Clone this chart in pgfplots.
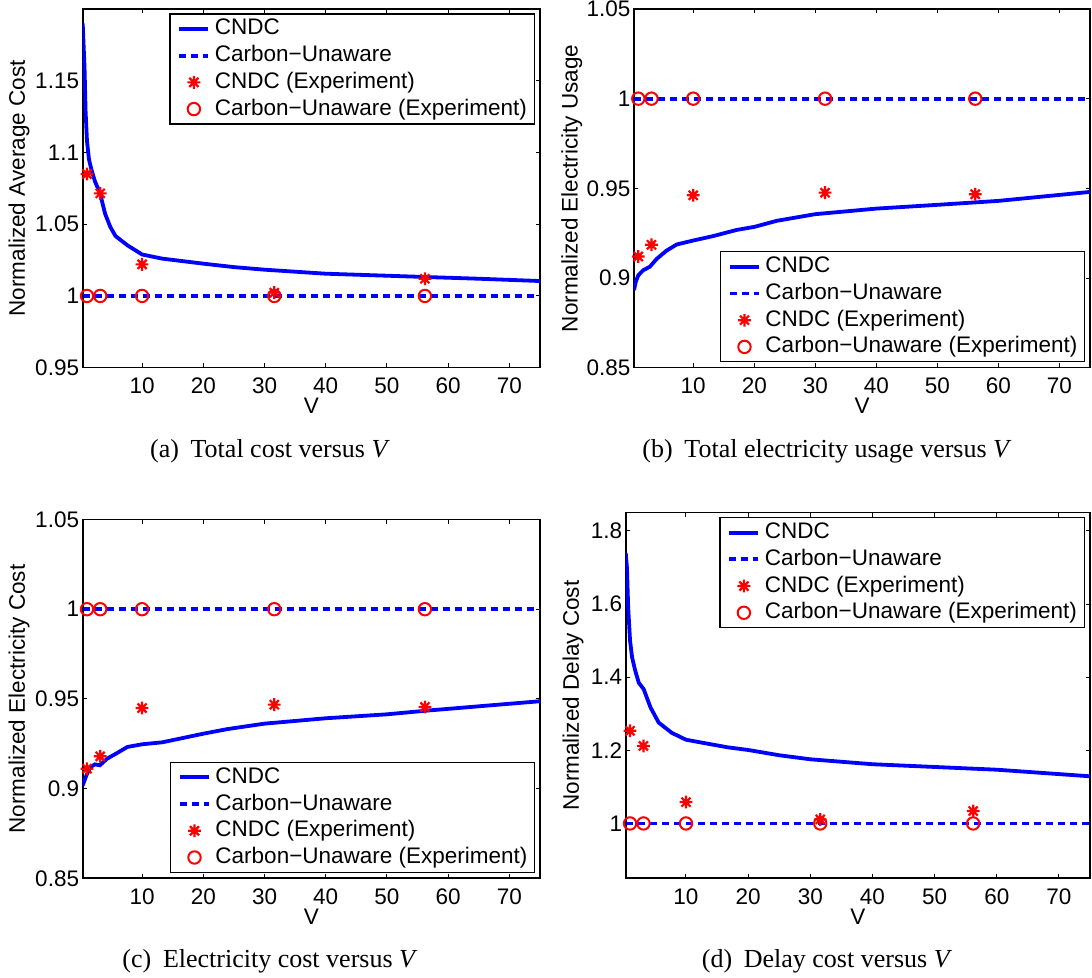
\documentclass[border=0pt]{standalone}
\usepackage{fontspec}
\setmainfont{Liberation Serif}
\newfontfamily\arialfont{Liberation Sans}
\usepackage{pgfplots}
\pgfplotsset{compat=1.18}
\usepackage{pgfplotstable}

\newcommand{\af}{\arialfont\fontsize{11.25}{13.5}\selectfont}
\newcommand{\cf}{\fontsize{13}{15.6}\selectfont}

\definecolor{mblue}{RGB}{0,0,255}
\definecolor{mred}{RGB}{255,0,0}

% eight-armed asterisk marker
\pgfdeclareplotmark{mstar}{%
  \pgfpathmoveto{\pgfqpoint{0pt}{\pgfplotmarksize}}%
  \pgfpathlineto{\pgfqpoint{0pt}{-\pgfplotmarksize}}%
  \pgfpathmoveto{\pgfqpoint{\pgfplotmarksize}{0pt}}%
  \pgfpathlineto{\pgfqpoint{-\pgfplotmarksize}{0pt}}%
  \pgfpathmoveto{\pgfqpoint{0.7071\pgfplotmarksize}{0.7071\pgfplotmarksize}}%
  \pgfpathlineto{\pgfqpoint{-0.7071\pgfplotmarksize}{-0.7071\pgfplotmarksize}}%
  \pgfpathmoveto{\pgfqpoint{-0.7071\pgfplotmarksize}{0.7071\pgfplotmarksize}}%
  \pgfpathlineto{\pgfqpoint{0.7071\pgfplotmarksize}{-0.7071\pgfplotmarksize}}%
  \pgfusepathqstroke
}

% ---------- data ----------
% CNDC curves (simulation)
\pgfplotstableread{
V y
0.3 1.190
0.6 1.159
0.77 1.129
1.0 1.108
1.33 1.095
1.73 1.088
2.29 1.080
3.13 1.0715
3.98 1.057
4.82 1.048
5.67 1.0417
7.64 1.0352
10 1.0289
13.3 1.026
20 1.0225
25 1.0201
30 1.0183
40 1.0155
50 1.0141
56.3 1.0132
65 1.0120
75 1.0104
}\cndcA

\pgfplotstableread{
V y
0.3 0.8933
0.6 0.8980
1.0 0.9015
1.8 0.9043
2.9 0.9063
4.0 0.9106
5.6 0.9152
7.3 0.9187
10 0.9209
13.3 0.9234
17.1 0.9268
20 0.9285
23.7 0.9319
30 0.9356
40 0.9387
50 0.9408
60 0.9430
75 0.9480
}\cndcB

\pgfplotstableread{
V y
0.3 0.9018
0.9 0.9073
1.56 0.9120
2.3 0.9135
3.1 0.9130
4.3 0.9167
5.7 0.9194
7.6 0.9232
10 0.9247
13.3 0.9258
16.1 0.9278
20 0.9306
24 0.9332
30 0.9362
40 0.9392
50 0.9414
56.3 0.9434
75 0.9487
}\cndcC

\pgfplotstableread{
V y
0.3 1.740
0.5 1.700
0.7 1.590
1.0 1.500
1.33 1.454
1.8 1.420
2.4 1.385
3.2 1.367
4.3 1.317
5.6 1.276
7.7 1.248
10 1.229
13.2 1.219
16.8 1.208
20 1.201
25 1.1865
30 1.1755
40 1.162
50 1.1545
60 1.147
75 1.129
}\cndcD

% experiments: V, CNDC (a-d), carbon-unaware
\pgfplotstableread{
V a b c d u
1     1.085  0.9120 0.9111 1.2533 1
3.16  1.0715 0.9185 0.9180 1.2120 1
10    1.022  0.9461 0.9449 1.0585 1
31.6  1.0023 0.9476 0.9468 1.0110 1
56.2  1.012  0.9467 0.9455 1.0338 1
}\expt

% ---------- styles ----------
\pgfplotsset{
  linelegend/.style={legend image code/.code={\draw[##1] (0pt,0pt) -- (14.6pt,0pt);}},
  marklegend/.style={legend image code/.code={\path (0pt,0pt) (14.6pt,0pt);
      \draw[##1] plot coordinates {(7.3pt,0pt)};}},
  cndc/.style={mblue, line width=1.9pt, no marks, linelegend},
  unaware/.style={mblue, line width=1.9pt, no marks, dash pattern=on 3.6pt off 2.4pt, linelegend},
  cstar/.style={only marks, mark=mstar, mark size=3.2pt, mred, line width=1.1pt, marklegend},
  ucirc/.style={only marks, mark=o, mark size=3.1pt, mred, line width=1pt, marklegend},
  mlab/.style={
    scale only axis, anchor=south west,
    xmin=0.3, xmax=75,
    xtick={10,20,30,40,50,60,70}, xticklabels={10,20,30,40,50,60,70},
    tick align=inside, xtick pos=both, ytick pos=both,
    xticklabel pos=lower, yticklabel pos=left,
    major tick length=2.2pt, minor tick num=0,
    every tick/.style={black, line width=0.5pt},
    axis line style={line width=0.8pt},
    tick label style={font=\af},
    label style={font=\af},
    xticklabel style={yshift=-1.5pt},
    yticklabel style={xshift=1.7pt},
    xlabel={V},
    xlabel style={anchor=center},
    ylabel style={anchor=center},
    legend cell align=left,
    legend style={font=\af, draw=black, line width=0.6pt, fill=white,
      inner xsep=3.65pt, inner ysep=2pt, row sep=2.35pt, column sep=2.25pt,
      nodes={inner sep=0pt, text height=8.5pt, text depth=2.5pt}},
  },
  legNE/.style={legend style={at={(axis description cs:1,1)}, anchor=north east,
      xshift=-2.6pt, yshift=-2.2pt}},
  legSE/.style={legend style={at={(axis description cs:1,0)}, anchor=south east,
      xshift=-2.3pt, yshift=2.6pt}},
}

\begin{document}
\begin{tikzpicture}
\useasboundingbox (0pt,0pt) rectangle (546pt,489pt);

% (a) total cost
\begin{axis}[mlab, legNE, at={(41.35pt,305.15pt)}, width=228.65pt, height=179.35pt,
  ymin=0.95, ymax=1.2, ytick={0.95,1,1.05,1.1,1.15}, yticklabels={0.95,1,1.05,1.1,1.15},
  ylabel={Normalized Average Cost},
  ylabel style={at={(axis description cs:-0.1393,0.5)}},
  xlabel style={at={(axis description cs:0.5,-0.107)}}]
\addplot[cndc] table[x=V,y=y] {\cndcA};
\addplot[unaware] coordinates {(0.3,1) (75,1)};
\addplot[cstar] table[x=V,y=a] {\expt};
\addplot[ucirc] table[x=V,y=u] {\expt};
\legend{CNDC,Carbon−Unaware,CNDC (Experiment),Carbon−Unaware (Experiment)}
\end{axis}

% (b) electricity usage
\begin{axis}[mlab, legSE, at={(317pt,305.15pt)}, width=228pt, height=179.35pt,
  ymin=0.85, ymax=1.05, ytick={0.85,0.9,0.95,1,1.05}, yticklabels={0.85,0.9,0.95,1,1.05},
  ylabel={Normalized Electricity Usage},
  ylabel style={at={(axis description cs:-0.1366,0.5)}},
  xlabel style={at={(axis description cs:0.5,-0.107)}}]
\addplot[cndc] table[x=V,y=y] {\cndcB};
\addplot[unaware] coordinates {(0.3,1) (75,1)};
\addplot[cstar] table[x=V,y=b] {\expt};
\addplot[ucirc] table[x=V,y=u] {\expt};
\legend{CNDC,Carbon−Unaware,CNDC (Experiment),Carbon−Unaware (Experiment)}
\end{axis}

% (c) electricity cost
\begin{axis}[mlab, legSE, at={(41.35pt,49.85pt)}, width=228.65pt, height=179.4pt,
  ymin=0.85, ymax=1.05, ytick={0.85,0.9,0.95,1,1.05}, yticklabels={0.85,0.9,0.95,1,1.05},
  ylabel={Normalized Electricity Cost},
  ylabel style={at={(axis description cs:-0.1393,0.5)}},
  xlabel style={at={(axis description cs:0.5,-0.107)}}]
\addplot[cndc] table[x=V,y=y] {\cndcC};
\addplot[unaware] coordinates {(0.3,1) (75,1)};
\addplot[cstar] table[x=V,y=c] {\expt};
\addplot[ucirc] table[x=V,y=u] {\expt};
\legend{CNDC,Carbon−Unaware,CNDC (Experiment),Carbon−Unaware (Experiment)}
\end{axis}

% (d) delay cost
\begin{axis}[mlab, legNE, at={(312.85pt,49.85pt)}, width=232.15pt, height=182.8pt,
  ymin=0.85, ymax=1.85, ytick={1,1.2,1.4,1.6,1.8}, yticklabels={1,1.2,1.4,1.6,1.8},
  ylabel={Normalized Delay Cost},
  ylabel style={at={(axis description cs:-0.1133,0.5)}},
  xlabel style={at={(axis description cs:0.5,-0.105)}}]
\addplot[cndc] table[x=V,y=y] {\cndcD};
\addplot[unaware] coordinates {(0.3,1) (75,1)};
\addplot[cstar] table[x=V,y=d] {\expt};
\addplot[ucirc] table[x=V,y=u] {\expt};
\legend{CNDC,Carbon−Unaware,CNDC (Experiment),Carbon−Unaware (Experiment)}
\end{axis}

% sub-figure captions
\node[font=\cf, anchor=base] at (135pt,260.35pt) {(a)\hspace{0.45em}Total cost versus \textit{V}};
\node[font=\cf, anchor=base] at (413.5pt,260.35pt) {(b)\hspace{0.45em}Total electricity usage versus \textit{V}};
\node[font=\cf, anchor=base] at (135pt,5.35pt) {(c)\hspace{0.45em}Electricity cost versus \textit{V}};
\node[font=\cf, anchor=base] at (413.5pt,5.35pt) {(d)\hspace{0.45em}Delay cost versus \textit{V}};
\end{tikzpicture}
\end{document}
